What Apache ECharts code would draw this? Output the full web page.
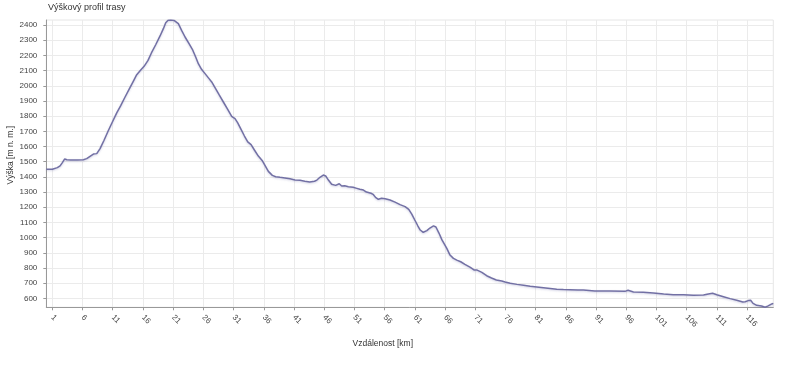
<!DOCTYPE html>
<html>
<head>
<meta charset="utf-8">
<script src="https://cdn.jsdelivr.net/npm/echarts@6/dist/echarts.min.js"></script>
<style>html,body{margin:0;padding:0;background:#fff}#c{width:800px;height:367px}</style>
</head>
<body>
<div id="c"></div>
<script>
var titleText = 'Výškový profil trasy';
var xName = 'Vzdálenost [km]';
var yName = 'Výška [m n. m.]';
var xTicks = [1, 6, 11, 16, 21, 26, 31, 36, 41, 46, 51, 56, 61, 66, 71, 76, 81, 86, 91, 96, 101, 106, 111, 116];
var yTicks = [600, 700, 800, 900, 1000, 1100, 1200, 1300, 1400, 1500, 1600, 1700, 1800, 1900, 2000, 2100, 2200, 2300, 2400];
var distKm = [0, 1.0, 1.83, 2.28, 2.66, 3.05, 3.4, 4.04, 5.15, 6.14, 6.69, 7.24, 7.8, 8.35, 8.9, 9.56, 10.22, 10.94, 11.66, 12.32, 13.04, 13.7, 14.42, 14.97, 15.63, 16.19, 16.84, 17.4, 18.11, 18.83, 19.38, 19.77, 20.16, 20.6, 21.2, 21.86, 22.4, 22.97, 23.63, 24.18, 24.73, 25.17, 25.7, 26.28, 26.94, 27.38, 27.93, 28.6, 29.31, 30.03, 30.69, 31.24, 31.69, 32.24, 32.8, 33.35, 33.9, 34.45, 35.1, 35.8, 36.2, 36.76, 37.42, 37.97, 38.69, 39.5, 40.35, 41.17, 42.0, 42.8, 43.6, 44.4, 44.8, 45.3, 45.86, 46.25, 46.7, 47.24, 47.5, 47.9, 48.2, 48.5, 48.9, 49.4, 50.0, 50.8, 51.4, 51.9, 52.5, 53.0, 53.75, 54.1, 54.5, 54.97, 55.5, 56.1, 56.9, 57.73, 58.56, 59.4, 60.0, 60.5, 61.0, 61.5, 61.9, 62.4, 63.0, 63.5, 64.1, 64.5, 65.0, 65.5, 66.3, 66.83, 67.4, 67.95, 68.6, 69.3, 70.2, 70.8, 71.25, 71.5, 72.1, 72.9, 73.7, 74.5, 75.4, 75.95, 76.8, 77.9, 79.0, 80.1, 81.2, 82.3, 83.4, 84.5, 85.6, 86.7, 88.0, 88.9, 90.8, 93.3, 95.8, 96.3, 97.2, 98.8, 100.5, 102.2, 103.8, 105.5, 107.1, 108.8, 109.6, 110.3, 111.0, 112.1, 113.2, 114.3, 115.3, 115.7, 116.2, 116.6, 117.0, 117.6, 118.4, 119.0, 119.5, 120.1, 120.35];
var elevM = [1450, 1450, 1461, 1472, 1494, 1518, 1513, 1511, 1511, 1513, 1520, 1535, 1550, 1553, 1586, 1641, 1700, 1761, 1821, 1869, 1926, 1976, 2031, 2073, 2104, 2128, 2167, 2216, 2270, 2328, 2376, 2415, 2431, 2433, 2429, 2409, 2365, 2321, 2277, 2240, 2189, 2145, 2108, 2080, 2047, 2025, 1987, 1941, 1893, 1845, 1799, 1783, 1755, 1713, 1669, 1630, 1612, 1577, 1537, 1504, 1476, 1436, 1410, 1401, 1397, 1393, 1387, 1380, 1377, 1371, 1366, 1371, 1379, 1397, 1412, 1406, 1379, 1351, 1340, 1344, 1351, 1355, 1340, 1342, 1335, 1331, 1324, 1318, 1313, 1300, 1292, 1285, 1265, 1252, 1259, 1256, 1248, 1234, 1217, 1204, 1186, 1155, 1116, 1078, 1050, 1035, 1046, 1063, 1077, 1070, 1030, 985, 929, 885, 863, 852, 841, 824, 804, 787, 787, 791, 771, 749, 734, 721, 714, 708, 699, 692, 686, 679, 675, 670, 665, 660, 658, 657, 655, 655, 648, 648, 646, 653, 642, 640, 635, 629, 624, 624, 620, 622, 629, 633, 624, 611, 598, 587, 576, 578, 585, 587, 567, 554, 550, 541, 550, 563, 567];

var points = distKm.map(function (d, i) { return [d, elevM[i]]; });
var FONT = '"Liberation Sans", Arial, sans-serif';
var chart = echarts.init(document.getElementById('c'), null, { renderer: 'canvas' });
chart.setOption({
  animation: false,
  backgroundColor: '#ffffff',
  title: {
    text: titleText,
    left: 48,
    top: 3,
    padding: 0,
    textStyle: { fontFamily: FONT, fontSize: 9, fontWeight: 'normal', color: '#333' }
  },
  grid: {
    left: 46.3, right: 26.7, top: 20, bottom: 59.7,
    containLabel: false, outerBoundsMode: 'none',
    show: true, borderColor: '#e6e6e6', borderWidth: 1, backgroundColor: 'transparent'
  },
  xAxis: {
    type: 'value',
    min: 0,
    max: 'dataMax',
    name: xName,
    nameLocation: 'middle',
    nameGap: 32,
    nameMoveOverlap: false,
    nameTextStyle: { fontFamily: FONT, fontSize: 8.5, color: '#333', padding: [0, 54, 0, 0] },
    axisLine: { show: true, onZero: false, lineStyle: { color: '#999', width: 1 } },
    axisTick: { show: true, length: 3, customValues: xTicks, lineStyle: { color: '#999' } },
    axisLabel: { customValues: xTicks, rotate: -45, margin: 9, fontFamily: FONT, fontSize: 8, color: '#444',
      formatter: function (v) { return String(v); } },
    splitLine: { show: true, lineStyle: { color: '#ebebeb', width: 1 } }
  },
  yAxis: {
    type: 'value',
    min: 'dataMin',
    max: 'dataMax',
    name: yName,
    nameLocation: 'middle',
    nameGap: 31,
    nameMoveOverlap: false,
    nameTextStyle: { fontFamily: FONT, fontSize: 8.5, color: '#333', padding: [0, 0, 0, 17] },
    axisLine: { show: true, lineStyle: { color: '#999', width: 1 } },
    axisTick: { show: true, length: 3, customValues: yTicks, lineStyle: { color: '#999' } },
    axisLabel: { customValues: yTicks, margin: 9, fontFamily: FONT, fontSize: 8, color: '#444',
      formatter: function (v) { return String(v); } },
    splitLine: { show: true, lineStyle: { color: '#ebebeb', width: 1 } }
  },
  series: [{
    type: 'line',
    data: points,
    showSymbol: false,
    symbol: 'none',
    smooth: false,
    lineStyle: {
      color: '#7270a4', width: 1.5,
      shadowColor: 'rgba(110,110,170,0.3)', shadowBlur: 2, shadowOffsetY: 1
    }
  }]
});
</script>
</body>
</html>
